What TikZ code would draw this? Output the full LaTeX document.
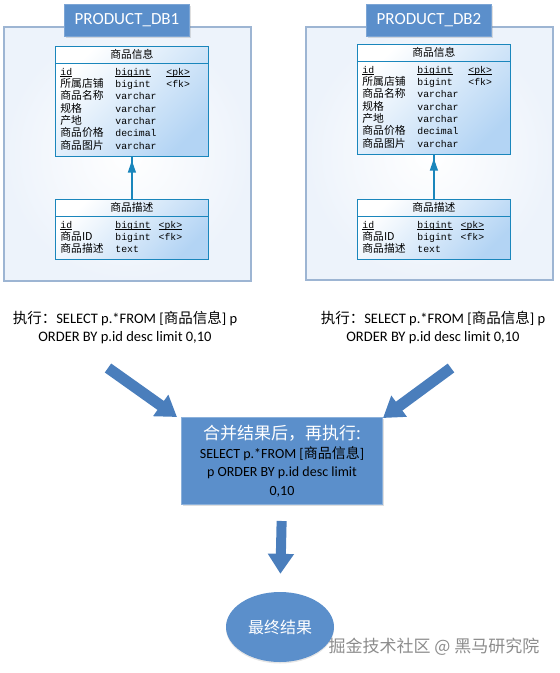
\documentclass[tikz,border=0pt]{standalone}
\usepackage{fontspec}
\setmainfont{Carlito}
\setmonofont{Liberation Mono}
\newfontfamily\cjk{Noto Sans CJK SC}
\usetikzlibrary{arrows.meta,shapes.multipart,shapes.geometric,shadows}

\definecolor{boxblue}{HTML}{5B8FCB}
\definecolor{arrblue}{HTML}{4A7EBC}
\definecolor{tblline}{HTML}{1A86BC}
\definecolor{tblfill}{HTML}{B3D4F4}
\definecolor{frameline}{HTML}{9DB5D3}
\definecolor{framefill}{HTML}{EDF3FB}

\newcommand{\zh}[1]{{\cjk #1}}
\newcommand{\fld}[1]{\leavevmode\smash{\cjk\fontsize{10.8}{12.3}\selectfont #1}}
\newcommand{\ul}[1]{\leavevmode\setbox0\hbox{#1}\rlap{\rule[-1.6pt]{\wd0}{.6pt}}\box0}
% one table: header, then rows name / type / key
\newcommand{\tbl}[2]{%
  {\cjk\fontsize{10.8}{13}\selectfont #1}\nodepart{two}%
  \fontsize{9.8}{12.3}\selectfont\ttfamily
  \begin{tabular}{@{}p{55pt}@{}p{51pt}@{}p{37pt}@{}}#2\end{tabular}}

\begin{document}
\begin{tikzpicture}[x=1pt,y=-1pt,
    frame/.style={draw=frameline,line width=1.2pt,inner color=white,outer color=framefill},
    dbtitle/.style={fill=boxblue,draw=boxblue!80!white,text=white,font=\fontsize{17}{20}\selectfont,
      minimum width=125pt,minimum height=32pt,drop shadow={opacity=.25,shadow xshift=1pt,shadow yshift=-1.5pt}},
    table/.style={rectangle split,rectangle split parts=2,rectangle split draw splits,
      draw=tblline,line width=.8pt,top color=white,bottom color=tblfill,shading angle=45,
      text width=143pt,align=center,inner xsep=5pt,inner ysep=3pt},
    ref/.style={draw=tblline,line width=1.2pt},
    exec/.style={align=center,font=\fontsize{14.5}{18}\selectfont},
    bigarrow/.style={draw=arrblue,line width=11pt,-{Triangle[width=25pt,length=20pt]}},
    merge/.style={fill=boxblue,draw=boxblue!70!white,line width=1pt,minimum width=201pt,minimum height=87pt,
      align=center,font=\fontsize{14}{18.5}\selectfont,drop shadow={opacity=.25,shadow xshift=1.5pt,shadow yshift=-1.5pt}},
    result/.style={ellipse,fill=boxblue,minimum width=108pt,minimum height=70pt,text=white,
      font=\fontsize{16}{18}\cjk,drop shadow={opacity=.2,shadow xshift=0pt,shadow yshift=-1.5pt}}]
\useasboundingbox (0,0) rectangle (560,673);

% two databases
\draw[frame] (4,27) rectangle (251,281);
\draw[frame] (306,27) rectangle (553,280);
\node[dbtitle] (db1) at (127,20) {PRODUCT\_DB1};
\node[dbtitle] (db2) at (429,20) {PRODUCT\_DB2};

\node[table,anchor=north west] (info1) at (55,46) {\tbl{商品信息}{%
  \ul{id} & \ul{bigint} & \ul{<pk>}\\
  \fld{所属店铺} & bigint & <fk>\\
  \fld{商品名称} & varchar &\\
  \fld{规格} & varchar &\\
  \fld{产地} & varchar &\\
  \fld{商品价格} & decimal &\\
  \fld{商品图片} & varchar &}};
\node[table,anchor=north west] (desc1) at (55,199) {\tbl{商品描述}{%
  \ul{id} & \ul{bigint}\rlap{\hspace{8pt}\ul{<pk>}} &\\
  \fld{商品ID} & bigint\rlap{\hspace{8pt}<fk>} &\\
  \fld{商品描述} & text &}};

\node[table,anchor=north west] (info2) at (357,44) {\tbl{商品信息}{%
  \ul{id} & \ul{bigint} & \ul{<pk>}\\
  \fld{所属店铺} & bigint & <fk>\\
  \fld{商品名称} & varchar &\\
  \fld{规格} & varchar &\\
  \fld{产地} & varchar &\\
  \fld{商品价格} & decimal &\\
  \fld{商品图片} & varchar &}};
\node[table,anchor=north west] (desc2) at (357,199) {\tbl{商品描述}{%
  \ul{id} & \ul{bigint}\rlap{\hspace{8pt}\ul{<pk>}} &\\
  \fld{商品ID} & bigint\rlap{\hspace{8pt}<fk>} &\\
  \fld{商品描述} & text &}};

\draw[ref] (desc1.north) -- (desc1.north|-info1.south);
\draw[ref,-{Triangle[width=8pt,length=12pt]},shorten >=4pt] (desc1.north) -- (desc1.north|-info1.south);
\draw[ref] (desc2.north) -- (desc2.north|-info2.south);
\draw[ref,-{Triangle[width=8pt,length=12pt]},shorten >=4pt] (desc2.north) -- (desc2.north|-info2.south);

% queries
\node[exec] (q1) at (125,327) {\zh{执行：}SELECT p.*FROM [\zh{商品信息}] p\\ORDER BY p.id desc limit 0,10};
\node[exec] (q2) at (433,327) {\zh{执行：}SELECT p.*FROM [\zh{商品信息}] p\\ORDER BY p.id desc limit 0,10};

\node[merge] (all) at (282,461) {{\cjk\color{white}\fontsize{17}{20}\selectfont 合并结果后，再执行:}\\
  SELECT p.*FROM [\zh{商品信息}]\\p ORDER BY p.id desc limit\\0,10};
\node[result] (end) at (280,627) {最终结果};

\coordinate (a1) at (108,368);
\coordinate (a2) at (451,368);
\draw[bigarrow] (a1) -- (177,417);
\draw[bigarrow] (a2) -- (383,418);
\draw[bigarrow,line width=10pt,shorten <=16pt,shorten >=18pt] (all.south) -- (end.north);

\node[text=black!45,font=\fontsize{17}{20}\cjk] (mark) at (434,647) {掘金技术社区 @ 黑马研究院};
\end{tikzpicture}
\end{document}
